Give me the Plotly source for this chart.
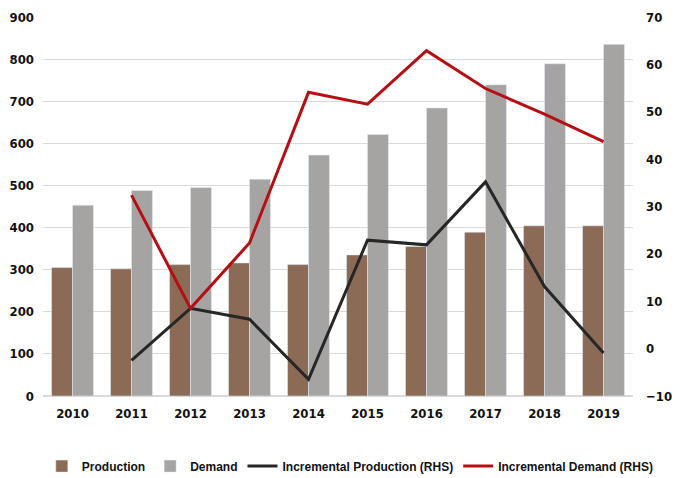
import plotly.graph_objects as go

years = ["2010", "2011", "2012", "2013", "2014", "2015", "2016", "2017", "2018", "2019"]
production = [305, 302, 312, 316, 312, 335, 355, 389, 404, 404]
demand = [453, 488, 495, 515, 572, 621, 684, 739, 789, 835]
inc_prod_years = years[1:]
inc_production = [-2.5, 8.5, 6.2, -6.5, 22.9, 21.9, 35.2, 13.1, -0.9]
inc_demand = [32.4, 8.5, 22.3, 54.1, 51.6, 62.9, 54.9, 49.5, 43.7]

FONT = "DejaVu Sans Condensed, DejaVu Sans, sans-serif"
LEG_FONT = "Liberation Sans, Arial, sans-serif"

fig = go.Figure()
fig.add_trace(go.Bar(x=years, y=production, name="Production", marker_color="#8B6A56"))
fig.add_trace(go.Bar(x=years, y=demand, name="Demand", marker_color="#A6A3A3"))
fig.add_trace(go.Scatter(x=inc_prod_years, y=inc_production, name="Incremental Production (RHS)",
                         mode="lines", line=dict(color="#262626", width=3), yaxis="y2"))
fig.add_trace(go.Scatter(x=inc_prod_years, y=inc_demand, name="Incremental Demand (RHS)",
                         mode="lines", line=dict(color="#B50F14", width=3), yaxis="y2"))

fig.update_layout(
    width=680, height=478,
    margin=dict(l=43, r=47, t=17, b=82, autoexpand=False),
    paper_bgcolor="white", plot_bgcolor="white",
    barmode="group", bargap=0.29, bargroupgap=0,
    font=dict(family=FONT, size=13, color="#111111", weight="bold"),
    showlegend=True,
    legend=dict(orientation="h", x=-0.002, xanchor="left", y=-0.185, yanchor="middle",
                font=dict(family=LEG_FONT, size=12, color="#111111", weight="bold"),
                traceorder="normal", itemwidth=30, tracegroupgap=0),
    xaxis=dict(showgrid=False, showline=False, ticks="", tickfont=dict(size=13),
               ticklabelstandoff=8),
    yaxis=dict(range=[0, 900], dtick=100, showgrid=True, gridcolor="#D9D9D9", gridwidth=1,
               zeroline=True, zerolinecolor="#D9D9D9", showline=False, ticks="",
               tickfont=dict(size=13), ticklabelstandoff=8),
    yaxis2=dict(range=[-10, 70], dtick=10, overlaying="y", side="right", showgrid=False,
                zeroline=False, showline=False, ticks="", tickfont=dict(size=13),
                ticklabelstandoff=12),
)

fig.write_html("out.html")
